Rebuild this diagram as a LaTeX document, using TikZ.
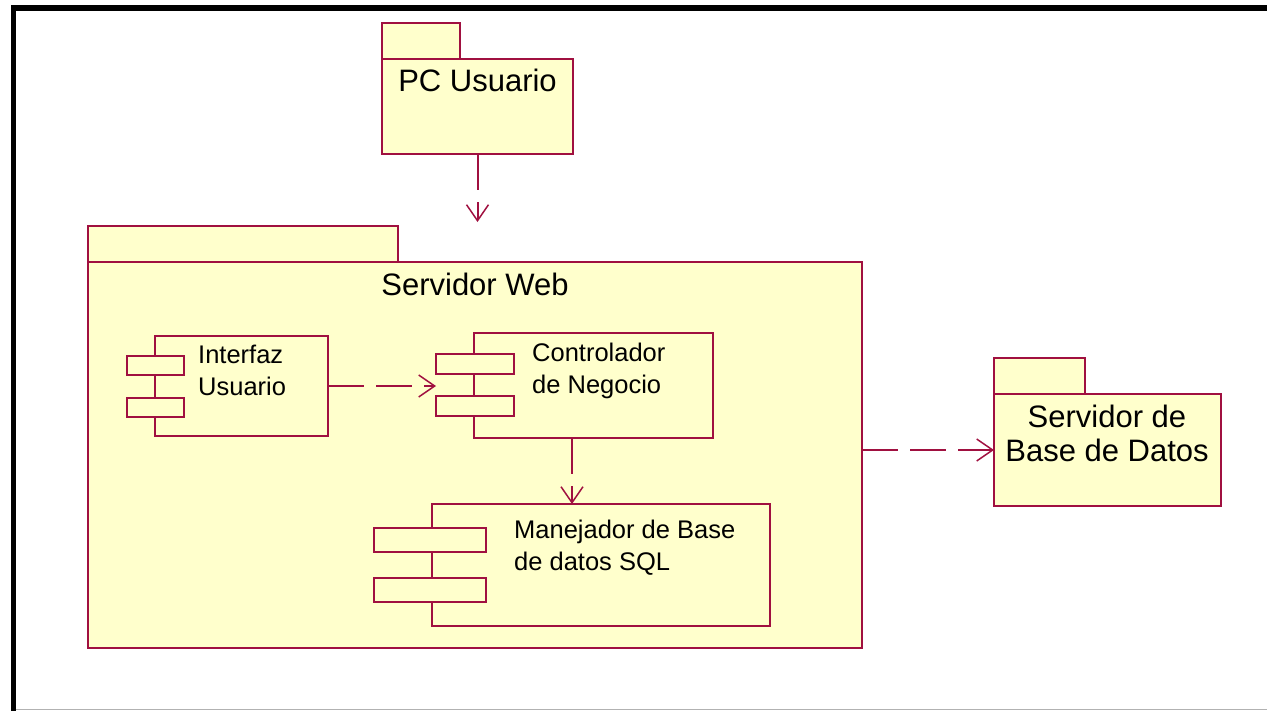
\documentclass[tikz,border=0pt]{standalone}
\usepackage{fontspec}
\setmainfont{Liberation Sans}
\usetikzlibrary{arrows.meta,positioning,calc}
\definecolor{umlline}{RGB}{160,16,64}
\definecolor{umlfill}{RGB}{255,255,204}

\begin{document}
\begin{tikzpicture}[x=1pt,y=-1pt,
  pkgbody/.style={draw=umlline, fill=umlfill, line width=2pt, anchor=north west,
    outer sep=0pt, inner sep=0pt},
  pkgname/.style={font=\fontsize{31}{34}\selectfont, align=center, anchor=base, inner sep=0pt},
  compname/.style={font=\fontsize{25.5}{32}\selectfont, align=left, anchor=base west, inner sep=0pt},
  deparrow/.style={draw=umlline, line width=2pt, dash pattern=on 36pt off 12pt,
    -{Straight Barb[length=16pt,width=22pt,line width=1.5pt]}}]
  \useasboundingbox (0,0) rectangle (1267,710);
  % Frame
  \draw[line width=5.5pt] (13.5,712) |- (1270,8);
  \draw[black!30, line width=1.5pt] (16,709.5) -- (1267,709.5);
  % PC Usuario
  \node[pkgbody, minimum width=78pt,  minimum height=36pt] (pctab) at (382,23) {};
  \node[pkgbody, minimum width=191pt, minimum height=95pt] (pc)    at (382,59) {};
  \node[pkgname] (pcname) at (477.5,91) {PC Usuario};
  % Servidor Web
  \node[pkgbody, minimum width=310pt, minimum height=36pt]  (webtab) at (88,226) {};
  \node[pkgbody, minimum width=774pt, minimum height=386pt] (web)    at (88,262) {};
  \node[pkgname] (webname) at (475,295) {Servidor Web};
  % Interfaz Usuario (base = last line)
  \node[pkgbody, minimum width=173pt, minimum height=100pt] (ui)   at (155,336) {};
  \node[pkgbody, minimum width=57pt,  minimum height=19pt]  (uipa) at (127,356) {};
  \node[pkgbody, minimum width=57pt,  minimum height=19pt]  (uipb) at (127,398) {};
  \node[compname] (uiname) at (198,395) {Interfaz\\Usuario};
  % Controlador de Negocio
  \node[pkgbody, minimum width=239pt, minimum height=105pt] (ctrl)   at (474,333) {};
  \node[pkgbody, minimum width=78pt,  minimum height=20pt]  (ctrlpa) at (436,354) {};
  \node[pkgbody, minimum width=78pt,  minimum height=20pt]  (ctrlpb) at (436,396) {};
  \node[compname] (ctrlname) at (532,393) {Controlador\\de Negocio};
  % Manejador de Base de datos SQL
  \node[pkgbody, minimum width=338pt, minimum height=122pt] (sql)   at (432,504) {};
  \node[pkgbody, minimum width=112pt, minimum height=24pt]  (sqlpa) at (374,528) {};
  \node[pkgbody, minimum width=112pt, minimum height=24pt]  (sqlpb) at (374,578) {};
  \node[compname] (sqlname) at (514,570) {Manejador de Base\\de datos SQL};
  % Servidor de Base de Datos
  \node[pkgbody, minimum width=91pt,  minimum height=36pt]  (dbtab) at (994,358) {};
  \node[pkgbody, minimum width=227pt, minimum height=112pt] (db)    at (994,394) {};
  \node[pkgname] (dbname) at (1107,461) {Servidor de\\Base de Datos};
  % Dependencies
  \draw[deparrow] (pc.south) -- ([yshift=4pt]pc.south |- webtab.north);
  \draw[deparrow] (ui.east) -- (ui.east -| ctrlpa.west);
  \draw[deparrow] ([xshift=-21.5pt]ctrl.south) -- ([xshift=-21.5pt]ctrl.south |- sql.north);
  \draw[deparrow] (web.east |- db.west) -- (db.west);
\end{tikzpicture}
\end{document}
